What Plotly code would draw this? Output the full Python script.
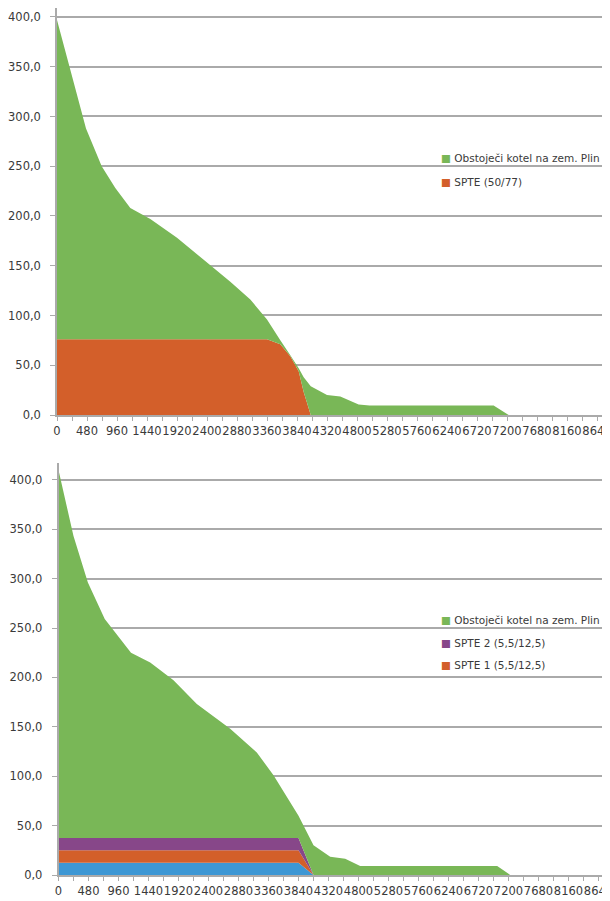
import plotly.graph_objects as go

# ---------------- data ----------------
hour_labels = ["0", "480", "960", "1440", "1920", "2400", "2880", "3360", "3840", "4320",
               "4800", "5280", "5760", "6240", "6720", "7200", "7680", "8160", "8640"]
hour_ticks = [0, 480, 960, 1440, 1920, 2400, 2880, 3360, 3840, 4320,
              4800, 5280, 5760, 6240, 6720, 7200, 7680, 8160, 8640]
y_ticks = [0, 50, 100, 150, 200, 250, 300, 350, 400]

# top chart (SPTE 50/77)
hours_top = [0, 213, 464, 715, 933, 1173, 1493, 1920, 2347, 2773, 3093, 3360,
             3573, 3733, 3867, 3947, 4060, 4320, 4533, 4826, 5000, 6986, 7226, 8760]
spte_top = [76, 76, 76, 76, 76, 76, 76, 76, 76, 76, 76, 76,
            71, 59, 44, 23, 0, 0, 0, 0, 0, 0, 0, 0]
boiler_top = [321, 271, 212, 174, 152, 132, 121, 102, 80, 58, 40, 20,
              4, 1, 3, 15, 29, 20, 18.5, 10.5, 9.5, 9.5, 0, 0]

# bottom chart (2x SPTE 5,5/12,5 + third unit)
hours_bot = [0, 240, 470, 740, 1160, 1467, 1840, 2213, 2747, 3173, 3440, 3840,
             4080, 4347, 4587, 4827, 7019, 7227, 8760]
spte_a_bot = [12.5, 12.5, 12.5, 12.5, 12.5, 12.5, 12.5, 12.5, 12.5, 12.5, 12.5, 12.5,
              0, 0, 0, 0, 0, 0, 0]
spte1_bot = [12.5, 12.5, 12.5, 12.5, 12.5, 12.5, 12.5, 12.5, 12.5, 12.5, 12.5, 12.5,
             0, 0, 0, 0, 0, 0, 0]
spte2_bot = [12.5, 12.5, 12.5, 12.5, 12.5, 12.5, 12.5, 12.5, 12.5, 12.5, 12.5, 12.5,
             0, 0, 0, 0, 0, 0, 0]
boiler_bot = [372.5, 305.5, 258.5, 221.5, 187.5, 177.5, 159.5, 135.5, 110.5, 86.5, 63.5, 22.5,
              30, 18.5, 16.4, 9, 9, 0, 0]

name_boiler = "Obstoječi kotel na zem. Plin"
name_spte = "SPTE (50/77)"
name_spte1 = "SPTE 1 (5,5/12,5)"
name_spte2 = "SPTE 2 (5,5/12,5)"

# ---------------- style ----------------
GREEN = "#79b757"
ORANGE = "#d35f2a"
PURPLE = "#874789"
BLUE = "#3d97d4"
GRID = "#aaaaaa"
TXT = "#3a3a3a"
FONT = "DejaVu Sans"
OFF = 8                      # page body margin
W, H = 610 - OFF, 901 - OFF  # figure size that fits the window

fig = go.Figure()


def area(x, y, color, name, group, xa, ya):
    return go.Scatter(x=x, y=y, name=name, stackgroup=group, mode="none",
                      fillcolor=color, line=dict(width=0), showlegend=False,
                      xaxis=xa, yaxis=ya, hoverinfo="x+y+name")


fig.add_trace(area(hours_top, spte_top, ORANGE, name_spte, "top", "x", "y"))
fig.add_trace(area(hours_top, boiler_top, GREEN, name_boiler, "top", "x", "y"))

fig.add_trace(area(hours_bot, spte_a_bot, BLUE, "SPTE", "bot", "x2", "y2"))
fig.add_trace(area(hours_bot, spte1_bot, ORANGE, name_spte1, "bot", "x2", "y2"))
fig.add_trace(area(hours_bot, spte2_bot, PURPLE, name_spte2, "bot", "x2", "y2"))
fig.add_trace(area(hours_bot, boiler_bot, GREEN, name_boiler, "bot", "x2", "y2"))


def xax(x0_ref, anchor):
    x0 = x0_ref - OFF
    return dict(domain=[x0 / W, 1], range=[0, (W - x0) / 0.0625], anchor=anchor,
                automargin=False, ticklabeloverflow="allow",
                tickmode="array", tickvals=hour_ticks, ticktext=hour_labels,
                ticks="outside", ticklen=4, tickcolor=GRID, tickwidth=1,
                minor=dict(ticks="outside", tick0=0, dtick=240, ticklen=4,
                           tickcolor=GRID, tickwidth=1, showgrid=False),
                showline=True, linecolor=GRID, linewidth=1.5,
                showgrid=False, zeroline=False,
                tickfont=dict(family=FONT, size=11.5, color=TXT), tickangle=0)


def yax(top_ref, bot_ref, ymax, anchor):
    top_px, bot_px = top_ref - OFF, bot_ref - OFF
    return dict(domain=[(H - bot_px) / H, (H - top_px) / H], range=[0, ymax], anchor=anchor,
                automargin=False,
                tickmode="array", tickvals=y_ticks, tickformat=".1f",
                ticks="outside", ticklen=5, tickcolor=GRID, tickwidth=1,
                ticklabelstandoff=7,
                showline=True, linecolor=GRID, linewidth=1.5,
                showgrid=True, gridcolor=GRID, gridwidth=1.6, zeroline=False,
                tickfont=dict(family=FONT, size=11.5, color=TXT))


fig.update_layout(
    width=W, height=H,
    margin=dict(l=0, r=0, t=0, b=0, autoexpand=False),
    paper_bgcolor="white", plot_bgcolor="white",
    separators=", ",
    showlegend=False,
    xaxis=xax(57, "y"),
    yaxis=yax(8, 415, 409, "x"),
    xaxis2=xax(58.5, "y2"),
    yaxis2=yax(463, 875, 417, "x2"),
)


def legend_entry(y_ref, color, text):
    fig.add_annotation(
        xref="paper", yref="paper", x=(439 - OFF) / W, y=(H - (y_ref - OFF)) / H,
        xanchor="left", yanchor="middle", showarrow=False, align="left",
        text=f'<span style="color:{color}">■</span> {text}',
        font=dict(family=FONT, size=10.5, color=TXT))


legend_entry(158, GREEN, name_boiler)
legend_entry(182, ORANGE, name_spte)

legend_entry(620, GREEN, name_boiler)
legend_entry(643, PURPLE, name_spte2)
legend_entry(665, ORANGE, name_spte1)

fig.write_html("out.html")
